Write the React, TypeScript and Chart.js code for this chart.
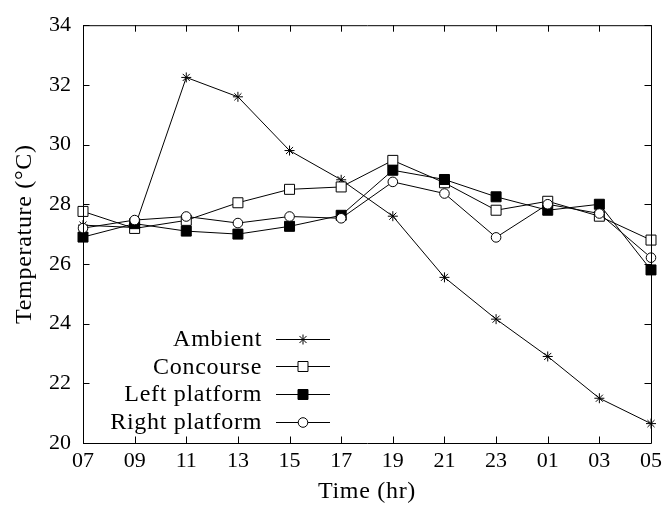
import React, { useEffect, useRef } from 'react';
import { Chart, registerables } from 'chart.js';

Chart.register(...registerables);

const hours = ['07', '09', '11', '13', '15', '17', '19', '21', '23', '01', '03', '05'];
const ambient = [27.3, 27.22, 32.25, 31.6, 29.8, 28.82, 27.6, 25.55, 24.15, 22.9, 21.5, 20.65];
const concourse = [27.76, 27.19, 27.46, 28.05, 28.5, 28.58, 29.47, 28.72, 27.8, 28.1, 27.6, 26.8];
const leftPlatform = [26.9, 27.35, 27.1, 27.0, 27.26, 27.63, 29.14, 28.83, 28.25, 27.8, 28.0, 25.8];
const rightPlatform = [27.2, 27.47, 27.59, 27.37, 27.59, 27.53, 28.75, 28.36, 26.89, 28.0, 27.69, 26.21];
const seriesLabels = ['Ambient', 'Concourse', 'Left platform', 'Right platform'];
const seriesStyles = ['star', 'rect', 'rect', 'circle'];
const seriesFills = ['#000000', '#ffffff', '#000000', '#ffffff'];
const seriesRadii = [5, 7.07, 7.07, 4.8];
const yMin = 20;
const yMax = 34;
const yStep = 2;
const xTitle = 'Time (hr)';
const yTitle = 'Temperature (°C)';

const FONT = '"Liberation Serif", "DejaVu Serif", serif';
const TEXT_FONT = '24px ' + FONT;
const TEXT_SPACING = '0.7px';

function drawMarker(ctx: CanvasRenderingContext2D, style: string, x: number, y: number, r: number, fill: string) {
  ctx.save();
  ctx.lineWidth = 1;
  ctx.strokeStyle = '#000';
  ctx.fillStyle = fill;
  ctx.beginPath();
  if (style === 'star') {
    const d = r * Math.SQRT1_2;
    ctx.moveTo(x - r, y); ctx.lineTo(x + r, y);
    ctx.moveTo(x, y - r); ctx.lineTo(x, y + r);
    ctx.moveTo(x - d, y - d); ctx.lineTo(x + d, y + d);
    ctx.moveTo(x - d, y + d); ctx.lineTo(x + d, y - d);
    ctx.stroke();
  } else if (style === 'rect') {
    const s = r * Math.SQRT1_2;
    ctx.rect(x - s, y - s, 2 * s, 2 * s);
    ctx.fill();
    ctx.stroke();
  } else {
    ctx.arc(x, y, r, 0, Math.PI * 2);
    ctx.fill();
    ctx.stroke();
  }
  ctx.restore();
}

const framePlugin = {
  id: 'gnuFrame',
  afterDraw(chart: any) {
    const { ctx, chartArea } = chart;
    const { left, right, top, bottom } = chartArea;
    const xs = chart.scales.x;
    const ys = chart.scales.y;
    const tl = 6.5;
    ctx.save();
    ctx.strokeStyle = '#000';
    ctx.lineWidth = 1;
    ctx.beginPath();
    ctx.rect(left + 0.5, top + 0.5, right - left, bottom - top);
    ctx.stroke();
    ctx.beginPath();
    ys.ticks.forEach((t: any) => {
      const py = Math.round(ys.getPixelForValue(t.value)) + 0.5;
      ctx.moveTo(left, py); ctx.lineTo(left + tl, py);
      ctx.moveTo(right, py); ctx.lineTo(right - tl, py);
    });
    xs.ticks.forEach((_t: any, i: number) => {
      const px = Math.round(xs.getPixelForTick(i)) + 0.5;
      ctx.moveTo(px, bottom); ctx.lineTo(px, bottom - tl);
      ctx.moveTo(px, top); ctx.lineTo(px, top + tl);
    });
    ctx.stroke();

    ctx.font = TEXT_FONT;
    (ctx as any).letterSpacing = TEXT_SPACING;
    ctx.fillStyle = '#000';
    ctx.textBaseline = 'middle';

    // axis titles
    ctx.textAlign = 'center';
    ctx.fillText(xTitle, (left + right) / 2, 492);
    ctx.save();
    ctx.translate(25, (top + bottom) / 2);
    ctx.rotate(-Math.PI / 2);
    ctx.fillText(yTitle, 0, 0);
    ctx.restore();

    // legend
    const textRight = 262;
    const lineStart = 276;
    const lineEnd = 330;
    const rowY0 = 338.5;
    const rowGap = 27.8;
    ctx.textAlign = 'right';
    chart.data.datasets.forEach((ds: any, i: number) => {
      const y = rowY0 + i * rowGap;
      ctx.fillText(ds.label, textRight, y + 1);
      ctx.beginPath();
      ctx.moveTo(lineStart, Math.round(y) + 0.5);
      ctx.lineTo(lineEnd, Math.round(y) + 0.5);
      ctx.stroke();
      drawMarker(ctx, seriesStyles[i], (lineStart + lineEnd) / 2, Math.round(y) + 0.5, seriesRadii[i], seriesFills[i]);
    });
    ctx.restore();
  },
};

export default function App() {
  const canvasRef = useRef<HTMLCanvasElement | null>(null);

  useEffect(() => {
    document.body.style.margin = '0';
    const canvas = canvasRef.current;
    if (!canvas) return;
    const allData = [ambient, concourse, leftPlatform, rightPlatform];
    const chart = new Chart(canvas, {
      type: 'line',
      data: {
        labels: hours,
        datasets: allData.map((d, i) => ({
          label: seriesLabels[i],
          data: d,
          borderColor: '#000',
          borderWidth: 1,
          tension: 0,
          fill: false,
          pointStyle: seriesStyles[i] as any,
          pointRadius: seriesRadii[i],
          pointHoverRadius: seriesRadii[i],
          pointBackgroundColor: seriesFills[i],
          pointBorderColor: '#000',
          pointBorderWidth: 1,
          order: 3 - i,
        })),
      },
      options: {
        animation: false,
        responsive: false,
        devicePixelRatio: 1,
        layout: { padding: { left: 0, right: 13, top: 20.5, bottom: 0 } },
        plugins: {
          legend: { display: false },
          tooltip: { enabled: false },
        },
        events: [],
        scales: {
          x: {
            type: 'category',
            offset: false,
            grid: { display: false, drawTicks: false },
            border: { display: false },
            ticks: {
              color: '#000',
              font: { family: FONT, size: 22 },
              padding: 5,
              maxRotation: 0,
              autoSkip: false,
            },
            title: { display: false },
            afterFit: (s: any) => { s.height = 62; },
          },
          y: {
            min: yMin,
            max: yMax,
            grid: { display: false, drawTicks: false },
            border: { display: false },
            ticks: {
              stepSize: yStep,
              color: '#000',
              font: { family: FONT, size: 22 },
              padding: 12,
            },
            title: { display: false },
            afterFit: (s: any) => { s.width = 83; },
          },
        },
      },
      plugins: [framePlugin],
    });
    return () => chart.destroy();
  }, []);

  return (
    <div style={{ width: 667, height: 505, background: '#fff' }}>
      <canvas ref={canvasRef} width={667} height={505} />
    </div>
  );
}
